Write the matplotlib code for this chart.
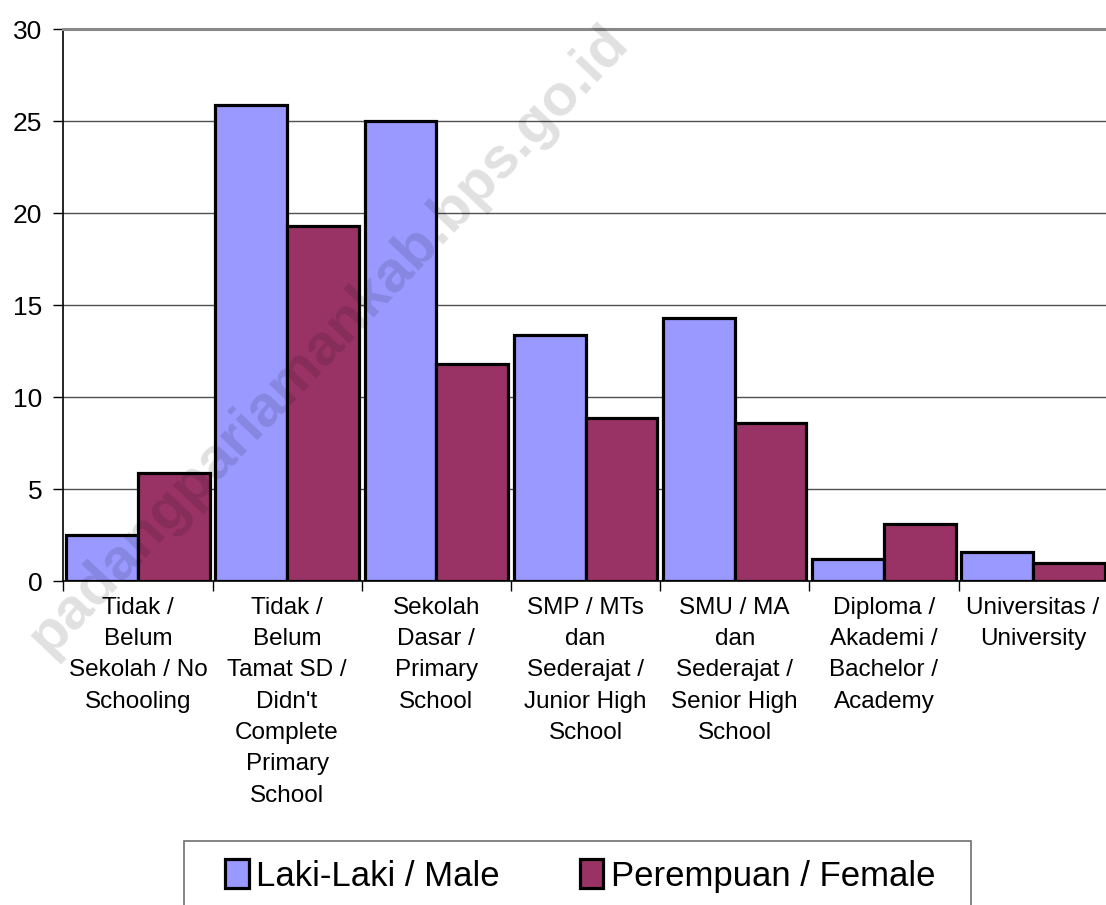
import numpy as np
import matplotlib.pyplot as plt
from matplotlib.patches import Rectangle

plt.rcParams['font.family'] = ['Liberation Sans', 'DejaVu Sans']

# data
categories = [
    "Tidak /\nBelum\nSekolah / No\nSchooling",
    "Tidak /\nBelum\nTamat SD /\nDidn't\nComplete\nPrimary\nSchool",
    "Sekolah\nDasar /\nPrimary\nSchool",
    "SMP / MTs\ndan\nSederajat /\nJunior High\nSchool",
    "SMU / MA\ndan\nSederajat /\nSenior High\nSchool",
    "Diploma /\nAkademi /\nBachelor /\nAcademy",
    "Universitas /\nUniversity",
]
male = [2.5, 25.9, 25.0, 13.4, 14.3, 1.2, 1.6]
female = [5.9, 19.3, 11.8, 8.9, 8.6, 3.1, 1.0]
yticks = [0, 5, 10, 15, 20, 25, 30]

W, H = 1106, 905
fig = plt.figure(figsize=(W / 100, H / 100), dpi=100)
left, right, top, bottom = 63.3, 1107.7, 29.3, 581.3
ax = fig.add_axes([left / W, 1 - bottom / H, (right - left) / W, (bottom - top) / H])

x = np.arange(len(categories))
bw = 0.48
ax.bar(x - 0.24, male, bw, color='#9999FF', edgecolor='black', linewidth=2.3,
       label='Laki-Laki / Male', zorder=3)
ax.bar(x + 0.24, female, bw, color='#993366', edgecolor='black', linewidth=2.3,
       label='Perempuan / Female', zorder=3)

ax.set_xlim(-0.5, len(categories) - 0.5)
ax.set_ylim(0, 30)
ax.set_yticks(yticks)
ax.set_yticklabels([str(v) for v in yticks], fontsize=19)
ax.yaxis.grid(True, color='#505050', linewidth=1.0, zorder=0)
ax.set_axisbelow(True)

ax.set_xticks(x)
ax.set_xticklabels(categories, fontsize=17.5, linespacing=1.55)
ax.set_xticks(np.arange(len(categories) + 1) - 0.5, minor=True)
ax.tick_params(axis='x', which='major', length=0, pad=11)
ax.tick_params(axis='x', which='minor', length=7, width=1, direction='out')
ax.tick_params(axis='y', length=7, width=1, direction='out', pad=8)

ax.spines['right'].set_visible(False)
ax.spines['top'].set_color('#888888')
ax.spines['top'].set_linewidth(2.2)
ax.spines['left'].set_linewidth(1.2)
ax.spines['bottom'].set_linewidth(1.2)

# legend box drawn separately so its padding matches the reference
fig.patches.append(Rectangle((184 / W, -0.02), (971 - 184) / W, 0.02 + (905 - 841) / H,
                             transform=fig.transFigure, facecolor='white',
                             edgecolor='#707070', linewidth=1.2, zorder=1))
leg = fig.legend(loc='center left', bbox_to_anchor=(225 / W, 1 - 876 / H),
                 ncol=2, fontsize=25, frameon=False,
                 handlelength=0.68, handleheight=0.9, handletextpad=0.22,
                 columnspacing=2.3, borderpad=0, borderaxespad=0)
leg.set_zorder(2)

# watermark
fig.text(0.297, 1 - 340 / H, 'padangpariamankab.bps.go.id', fontsize=42,
         fontweight='bold', color='black', alpha=0.12, rotation=46.5,
         ha='center', va='center', zorder=10)

fig.savefig('out.png', dpi=100)
